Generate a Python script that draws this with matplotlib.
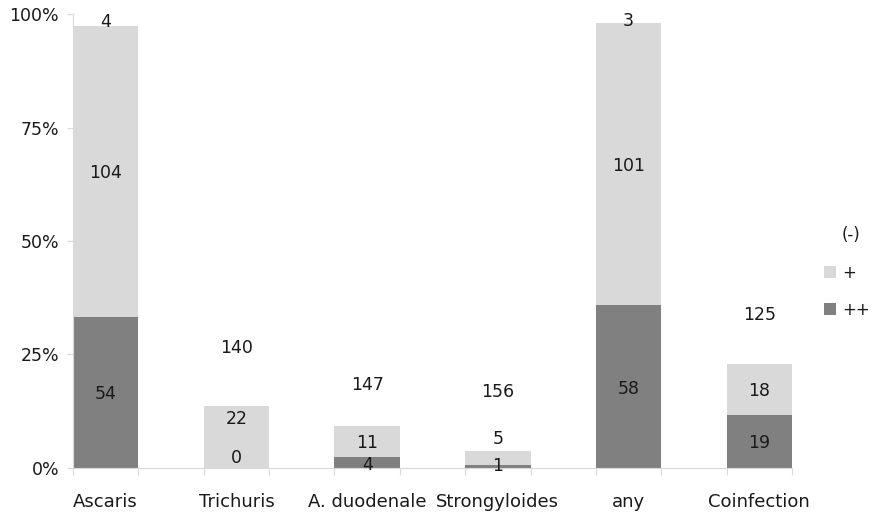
import numpy as np
import matplotlib
matplotlib.use("Agg")
import matplotlib.pyplot as plt
from matplotlib.patches import Patch

categories = ["Ascaris", "Trichuris", "A. duodenale", "Strongyloides", "any", "Coinfection"]
series = ["(-)", "+", "++"]
neg = [4, 140, 147, 156, 3, 125]
plus = [104, 22, 11, 5, 101, 18]
plusplus = [54, 0, 4, 1, 58, 19]

colors = {"(-)": "white", "+": "#d9d9d9", "++": "#808080"}
text_color = "#1a1a1a"
axis_color = "#d9d9d9"

counts = {"(-)": np.array(neg), "+": np.array(plus), "++": np.array(plusplus)}
total = counts["(-)"] + counts["+"] + counts["++"]
pct = {k: v / total * 100 for k, v in counts.items()}

# labels moved by hand in the original chart (percent height)
label_moves = {
    ("(-)", 1): 26.9, ("(-)", 2): 18.6, ("(-)", 3): 17.1, ("(-)", 5): 34.1,
    ("+", 1): 11.2, ("+", 3): 6.8,
    ("++", 1): 2.6, ("++", 3): 0.9, ("++", 2): 1.0,
}

fig = plt.figure(figsize=(8.74, 5.14), dpi=100)
ax = fig.add_axes([73 / 874, 1 - 467.7 / 514, (792 - 73) / 874, (467.7 - 14.4) / 514])

x = np.arange(len(categories))
width = 0.5
bottom = np.zeros(len(categories))
for name in ["++", "+", "(-)"]:
    h = pct[name]
    ax.bar(x, h, width, bottom=bottom, color=colors[name], edgecolor="none", zorder=2)
    for i in range(len(categories)):
        y = label_moves.get((name, i), bottom[i] + h[i] / 2)
        ax.text(x[i], y, str(counts[name][i]), ha="center", va="center_baseline",
                fontsize=12.5, color=text_color, zorder=3)
    bottom += h

ax.set_xlim(-0.25, len(categories) - 0.75)
ax.set_ylim(0, 100)

for s in ["top", "right"]:
    ax.spines[s].set_visible(False)
ax.spines["left"].set_color(axis_color)
ax.spines["bottom"].set_color(axis_color)

ax.set_yticks([0, 25, 50, 75, 100])
ax.set_yticklabels(["0%", "25%", "50%", "75%", "100%"])
ax.tick_params(axis="y", length=4, color=axis_color, labelsize=12.5,
               labelcolor=text_color, pad=6)

edges = np.concatenate([x - width / 2, x + width / 2])
ax.set_xticks(np.sort(edges))
ax.set_xticklabels([])
ax.tick_params(axis="x", which="major", length=5, color=axis_color)
ax.set_xticks(x, minor=True)
ax.set_xticklabels(categories, minor=True)
ax.tick_params(axis="x", which="minor", length=0, labelsize=13,
               labelcolor=text_color, pad=18)

handles = [Patch(facecolor=colors[s], edgecolor="none") for s in series]
leg = fig.legend(handles, series, loc="upper left", bbox_to_anchor=(816 / 874, 1 - 218 / 514),
                 frameon=False, fontsize=12, handlelength=0.7, handleheight=0.7,
                 handletextpad=0.35, labelspacing=1.15, borderpad=0)
for t in leg.get_texts():
    t.set_color(text_color)

fig.savefig("out.png", dpi=100)
